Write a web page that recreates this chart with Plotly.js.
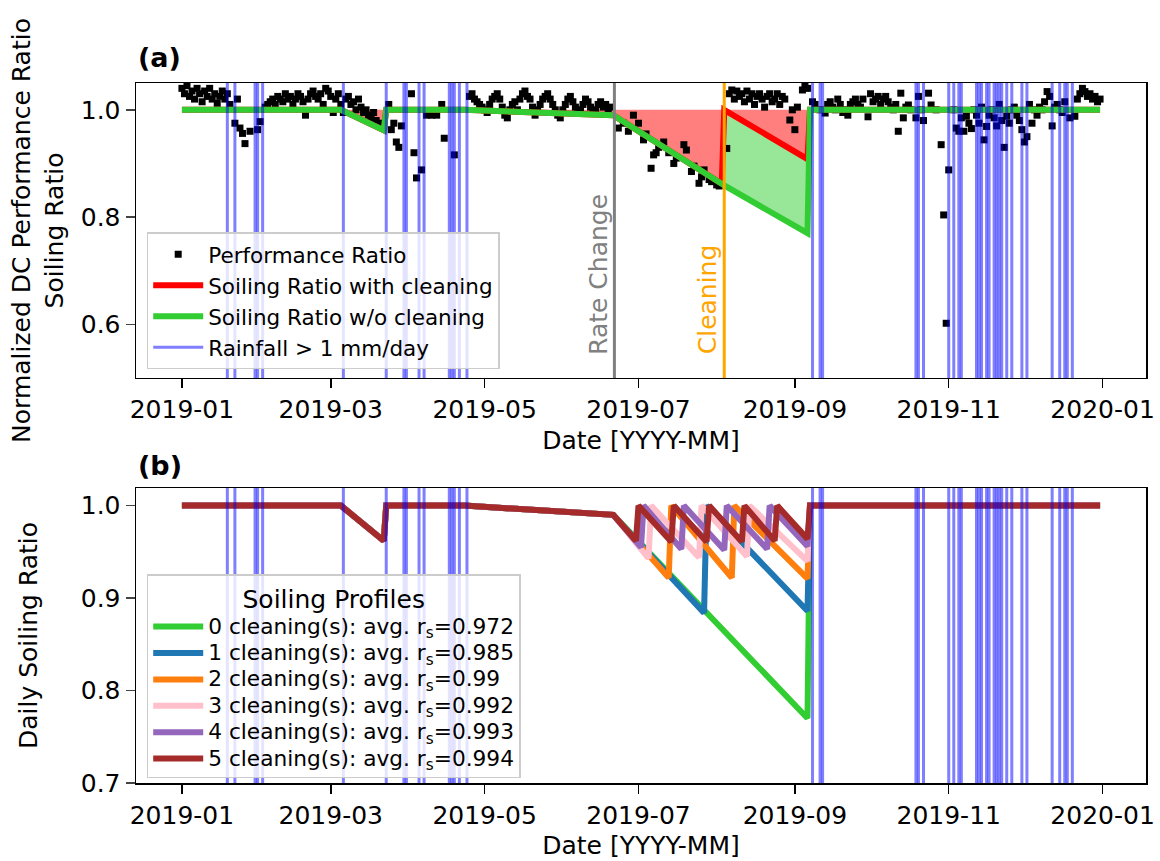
<!DOCTYPE html>
<html><head><meta charset="utf-8">
<script src="https://cdn.plot.ly/plotly-3.0.1.min.js"></script>
<style>body{margin:0;background:#fff;} #chart{width:1160px;height:861px;}</style>
</head><body><div id="chart"></div>
<script>
// ---------------- data ----------------
const yearStart = '2019-01-01';
const xTickLabels = ['2019-01','2019-03','2019-05','2019-07','2019-09','2019-11','2020-01'];

// rainfall days (> 1 mm/day)
const rainDates = ['2019-01-19','2019-01-22','2019-01-30','2019-01-31','2019-02-02','2019-03-06','2019-03-23','2019-03-30','2019-03-31','2019-04-05','2019-04-07','2019-04-17','2019-04-18','2019-04-19','2019-04-21','2019-04-24',
 '2019-09-08','2019-09-11','2019-09-12','2019-10-19','2019-10-20','2019-10-22','2019-11-01','2019-11-03','2019-11-05','2019-11-06','2019-11-12','2019-11-13','2019-11-14','2019-11-16','2019-11-17','2019-11-19','2019-11-20','2019-11-21','2019-11-22','2019-11-24','2019-11-26','2019-11-30','2019-12-02','2019-12-12','2019-12-15','2019-12-17','2019-12-18','2019-12-20'];

// performance ratio: day of year (0 = Jan 1) and value
const prDay = [0,1,2,3,4,5,6,7,8,9,10,11,12,13,14,15,16,17,18,19,21,22,23,24,25,27,30,31,
 33,34,35,36,37,38,39,40,41,42,43,44,45,46,47,48,49,50,51,52,53,54,55,56,57,58,59,60,61,62,63,
 64,65,66,67,68,69,70,71,72,73,74,75,76,77,78,80,82,83,84,85,86,87,91,92,93,95,97,99,101,103,104,108,
 114,115,116,117,118,119,120,121,122,123,124,125,126,127,128,129,130,131,132,133,134,135,136,137,138,139,140,141,142,143,144,145,146,147,148,149,150,151,152,153,154,155,156,157,158,159,160,161,162,163,164,165,166,167,168,169,170,
 173,175,177,179,181,183,184,186,187,188,189,191,193,195,196,199,200,202,203,205,206,207,209,210,212,213,216,
 217,218,219,220,221,222,223,224,225,226,227,228,229,230,231,232,233,234,235,236,237,238,239,241,242,243,244,246,247,248,
 250,251,253,255,256,257,258,259,260,261,262,263,264,265,266,267,268,269,270,272,273,274,275,276,277,278,279,280,281,282,283,284,285,286,287,288,289,291,292,293,294,296,297,299,301,302,303,304,306,307,308,309,310,311,312,313,314,315,316,317,318,319,320,321,322,323,324,325,326,327,328,329,330,331,332,333,334,335,336,337,338,339,340,341,342,343,344,345,346,347,348,349,350,352,354,355,356,357,358,359,360,361,362,363,364];
const prValue = [1.04,1.03,1.045,1.025,1.035,1.02,1.04,1.03,1.015,1.035,1.025,1.04,1.02,1.03,1.012,1.025,1.035,1.02,1.03,1.01,0.975,1.02,0.966,0.956,0.937,0.96,0.963,0.978,
 1.005,1.01,1.015,1.02,1.01,1.025,1.02,1.015,1.03,1.02,1.025,1.01,1.02,1.03,1.025,1.015,0.99,1.02,1.03,1.035,1.025,1.02,1.03,1.01,1.04,1.035,1.025,0.995,1.02,1.03,1.01,
 0.995,1.02,1.025,1.01,1.015,1.0,1.02,1.005,0.995,1.0,0.99,0.985,0.995,0.98,0.975,0.97,1.01,0.963,0.975,0.94,0.93,0.97,1.03,0.92,0.873,0.888,0.99,0.99,0.99,1.01,0.947,0.916,
 1.025,1.03,1.02,1.015,1.01,1.005,1.0,0.995,1.01,1.02,1.025,1.03,1.02,1.005,0.99,0.985,1.0,1.01,1.015,1.0,1.02,1.03,1.035,1.025,1.02,1.005,0.99,1.0,1.01,1.02,1.025,1.03,1.02,1.01,1.0,0.99,0.985,1.0,1.01,1.02,1.025,1.015,1.005,0.995,1.0,1.01,1.02,1.015,1.005,0.995,1.0,1.01,1.015,1.005,1.01,1.0,1.005,
 0.966,0.975,0.96,0.99,0.975,0.944,0.955,0.891,0.916,0.92,0.93,0.94,0.92,0.90,0.91,0.935,0.925,0.885,0.895,0.863,0.875,0.888,0.87,0.866,0.86,0.858,0.928,
 1.03,1.037,1.02,1.035,1.025,1.03,1.015,1.035,1.02,1.03,1.01,1.025,1.03,1.02,1.005,1.025,1.03,1.015,1.02,1.03,1.01,1.025,1.02,0.981,1.0,0.963,1.005,1.037,1.045,1.04,
 1.015,1.01,1.0,0.994,1.01,1.015,1.005,1.0,1.02,1.01,0.995,1.0,0.99,1.01,1.015,1.02,1.01,1.005,1.02,0.987,1.03,1.015,1.02,1.025,1.01,1.02,1.025,1.015,1.005,1.0,1.01,0.96,1.031,0.985,1.005,1.009,1.0,0.985,1.025,1.0,0.98,1.031,1.009,1.0,0.935,0.804,0.602,0.888,1.0,0.966,0.96,0.985,0.96,0.988,0.975,0.965,1.0,0.99,0.975,1.005,0.944,0.969,0.99,1.0,0.985,0.97,1.01,0.98,0.93,0.988,0.975,1.0,1.005,0.99,0.98,0.963,0.94,0.95,1.01,0.975,1.0,0.99,1.005,1.0,1.015,1.034,1.025,0.97,1.005,1.01,1.0,0.995,1.015,0.985,0.988,1.02,1.03,1.04,1.034,1.025,1.03,1.02,1.025,1.015,1.02];

// soiling ratio (panel a)
const srDates = ['2019-01-01','2019-03-05','2019-03-22','2019-03-23','2019-04-23','2019-06-21','2019-08-03','2019-08-04','2019-09-06','2019-09-07','2019-12-31'];
const srWithCleaning = [1.0,1.0,0.962,1.0,1.0,0.99,0.862,1.0,0.908,1.0,1.0];
const srNoCleaning   = [1.0,1.0,0.962,1.0,1.0,0.99,0.862,0.859,0.770,1.0,1.0];
const rateChangeDate = '2019-06-21 11:00';
const cleaningDate = '2019-08-04';

// soiling profiles (panel b)
const baseDates = ['2019-01-01','2019-03-05','2019-03-22','2019-03-23','2019-04-23','2019-06-21'];
const baseValues = [1.0,1.0,0.962,1.0,1.0,0.99];
const profileNames = ['0 cleaning(s): avg. r<sub>s</sub>=0.972','1 cleaning(s): avg. r<sub>s</sub>=0.985','2 cleaning(s): avg. r<sub>s</sub>=0.99','3 cleaning(s): avg. r<sub>s</sub>=0.992','4 cleaning(s): avg. r<sub>s</sub>=0.993','5 cleaning(s): avg. r<sub>s</sub>=0.994'];
const profileColors = ['#32cd32','#1f77b4','#ff7f0e','#ffc0cb','#9467bd','#a52a2a'];
const p0Dates = ['2019-09-06','2019-09-07','2019-12-31'];
const p0Values = [0.770,1.0,1.0];
const p1Dates = ['2019-07-27','2019-07-28','2019-09-06','2019-09-07','2019-12-31'];
const p1Values = [0.884,1.0,0.886,1.0,1.0];
const p2Dates = ['2019-07-13','2019-07-14','2019-08-07','2019-08-08','2019-09-06','2019-09-07','2019-12-31'];
const p2Values = [0.922,1.0,0.922,1.0,0.921,1.0,1.0];
const p3Dates = ['2019-07-05','2019-07-06','2019-07-25','2019-07-26','2019-08-13','2019-08-14','2019-09-06','2019-09-07','2019-12-31'];
const p3Values = [0.943,1.0,0.944,1.0,0.945,1.0,0.940,1.0,1.0];
const p4Dates = ['2019-07-02','2019-07-03','2019-07-18','2019-07-19','2019-08-04','2019-08-05','2019-08-21','2019-08-22','2019-09-06','2019-09-07','2019-12-31'];
const p4Values = [0.955,1.0,0.953,1.0,0.952,1.0,0.953,1.0,0.956,1.0,1.0];
const p5Dates = ['2019-06-30','2019-07-01','2019-07-14','2019-07-15','2019-07-28','2019-07-29','2019-08-11','2019-08-12','2019-08-24','2019-08-25','2019-09-06','2019-09-07','2019-12-31'];
const p5Values = [0.962,1.0,0.961,1.0,0.961,1.0,0.961,1.0,0.962,1.0,0.964,1.0,1.0];

// ---------------- build ----------------
const DAY = 86400000;
const t0 = Date.parse(yearStart + 'T00:00:00Z');
function dayToDate(d){ return new Date(t0 + d*DAY).toISOString().slice(0,10); }
const prDates = prDay.map(dayToDate);

const traces = [];
traces.push({x: srDates.concat(srDates.slice().reverse()), y: srWithCleaning.concat(srWithCleaning.map(()=>1.0)),
  xaxis:'x', yaxis:'y', mode:'lines', fill:'toself', fillcolor:'rgba(255,0,0,0.5)', line:{width:0}, showlegend:false, hoverinfo:'skip'});
traces.push({x: srDates.concat(srDates.slice().reverse()), y: srWithCleaning.concat(srNoCleaning.slice().reverse()),
  xaxis:'x', yaxis:'y', mode:'lines', fill:'toself', fillcolor:'rgba(50,205,50,0.5)', line:{width:0}, showlegend:false, hoverinfo:'skip'});
traces.push({x: prDates, y: prValue, xaxis:'x', yaxis:'y', mode:'markers', name:'Performance Ratio', legend:'legend',
  marker:{symbol:'square', size:7, color:'black'}});
traces.push({x: srDates, y: srWithCleaning, xaxis:'x', yaxis:'y', mode:'lines', name:'Soiling Ratio with cleaning', legend:'legend',
  line:{color:'#ff0000', width:6}});
traces.push({x: srDates, y: srNoCleaning, xaxis:'x', yaxis:'y', mode:'lines', name:'Soiling Ratio w/o cleaning', legend:'legend',
  line:{color:'#32cd32', width:6}});
traces.push({x:[null], y:[null], xaxis:'x', yaxis:'y', mode:'lines', name:'Rainfall > 1 mm/day', legend:'legend',
  line:{color:'rgba(0,0,255,0.5)', width:3}});

const pDates = [p0Dates,p1Dates,p2Dates,p3Dates,p4Dates,p5Dates];
const pValues = [p0Values,p1Values,p2Values,p3Values,p4Values,p5Values];
for (let i=0;i<6;i++){
  traces.push({x: baseDates.concat(pDates[i]), y: baseValues.concat(pValues[i]), xaxis:'x2', yaxis:'y2', mode:'lines',
    name: '<span style="font-size:21.7px">' + profileNames[i] + '</span>', legend:'legend2', line:{color:profileColors[i], width:6}});
}

const shapes = [];
['y','y2'].forEach(function(ya){
  const xa = ya==='y' ? 'x' : 'x2';
  rainDates.forEach(function(d){
    shapes.push({type:'line', xref:xa, yref:ya+' domain', x0:d, x1:d, y0:0, y1:1, layer:'above',
      line:{color:'rgba(0,0,255,0.5)', width:3}});
  });
});
shapes.push({type:'line', xref:'x', yref:'y domain', x0:rateChangeDate, x1:rateChangeDate, y0:0, y1:1, line:{color:'#808080', width:3}});
shapes.push({type:'line', xref:'x', yref:'y domain', x0:cleaningDate, x1:cleaningDate, y0:0, y1:1, line:{color:'#ffa500', width:3}});

const tickVals = xTickLabels.map(s => s + '-01');
const xRange = ['2018-12-13 19:00','2020-01-18 05:00'];
function xAxis(anchor){
  return {anchor:anchor, type:'date', range:xRange, tickvals:tickVals, ticktext:xTickLabels,
    ticks:'outside', ticklen:9, tickwidth:1.5, tickcolor:'black', showline:true, mirror:true, linecolor:'black', linewidth:1.5,
    showgrid:false, zeroline:false, tickfont:{size:25}, title:{text:'Date [YYYY-MM]', font:{size:25}, standoff:8}};
}
const layout = {
  width:1160, height:861, margin:{l:136, r:14, t:83, b:78},
  paper_bgcolor:'white', plot_bgcolor:'white',
  font:{family:'DejaVu Sans, sans-serif', size:25, color:'black'},
  xaxis: xAxis('y'),
  xaxis2: xAxis('y2'),
  yaxis: {domain:[0.5786,1], range:[0.5,1.05], tickvals:[0.6,0.8,1.0], ticktext:['0.6','0.8','1.0'],
    ticks:'outside', ticklen:9, tickwidth:1.5, showline:true, mirror:true, linecolor:'black', linewidth:1.5, showgrid:false, zeroline:false,
    tickfont:{size:25}, title:{text:'Normalized DC Performance Ratio<br>Soiling Ratio', font:{size:25}, standoff:10}},
  yaxis2: {domain:[0,0.4214], range:[0.7,1.019], tickvals:[0.7,0.8,0.9,1.0], ticktext:['0.7','0.8','0.9','1.0'],
    ticks:'outside', ticklen:9, tickwidth:1.5, showline:true, mirror:true, linecolor:'black', linewidth:1.5, showgrid:false, zeroline:false,
    tickfont:{size:25}, title:{text:'Daily Soiling Ratio', font:{size:25}, standoff:36}},
  legend:{x:0.0106, y:0.7867, xanchor:'left', yanchor:'top', bgcolor:'rgba(255,255,255,0.8)', bordercolor:'#cccccc', borderwidth:1.5,
    font:{size:21.5}, itemwidth:50},
  legend2:{x:0.0106, y:0.298, xanchor:'left', yanchor:'top', bgcolor:'rgba(255,255,255,0.8)', bordercolor:'#cccccc', borderwidth:1.5,
    font:{size:18}, itemwidth:50, title:{text:'Soiling Profiles', side:'top center', font:{size:25}}},
  shapes: shapes,
  annotations:[
    {xref:'paper', yref:'paper', x:0, y:1.012, xanchor:'left', yanchor:'bottom', text:'<b>(a)</b>', showarrow:false, font:{size:27}},
    {xref:'paper', yref:'paper', x:0, y:0.428, xanchor:'left', yanchor:'bottom', text:'<b>(b)</b>', showarrow:false, font:{size:27}},
    {xref:'x', yref:'y', x:rateChangeDate, y:0.54, xanchor:'right', yanchor:'bottom', textangle:-90, text:'Rate Change', showarrow:false, font:{size:25, color:'#808080'}},
    {xref:'x', yref:'y', x:cleaningDate, y:0.54, xanchor:'right', yanchor:'bottom', textangle:-90, text:'Cleaning', showarrow:false, font:{size:25, color:'#ffa500'}}
  ]
};
Plotly.newPlot('chart', traces, layout, {displayModeBar:false, staticPlot:true});
</script></body></html>
